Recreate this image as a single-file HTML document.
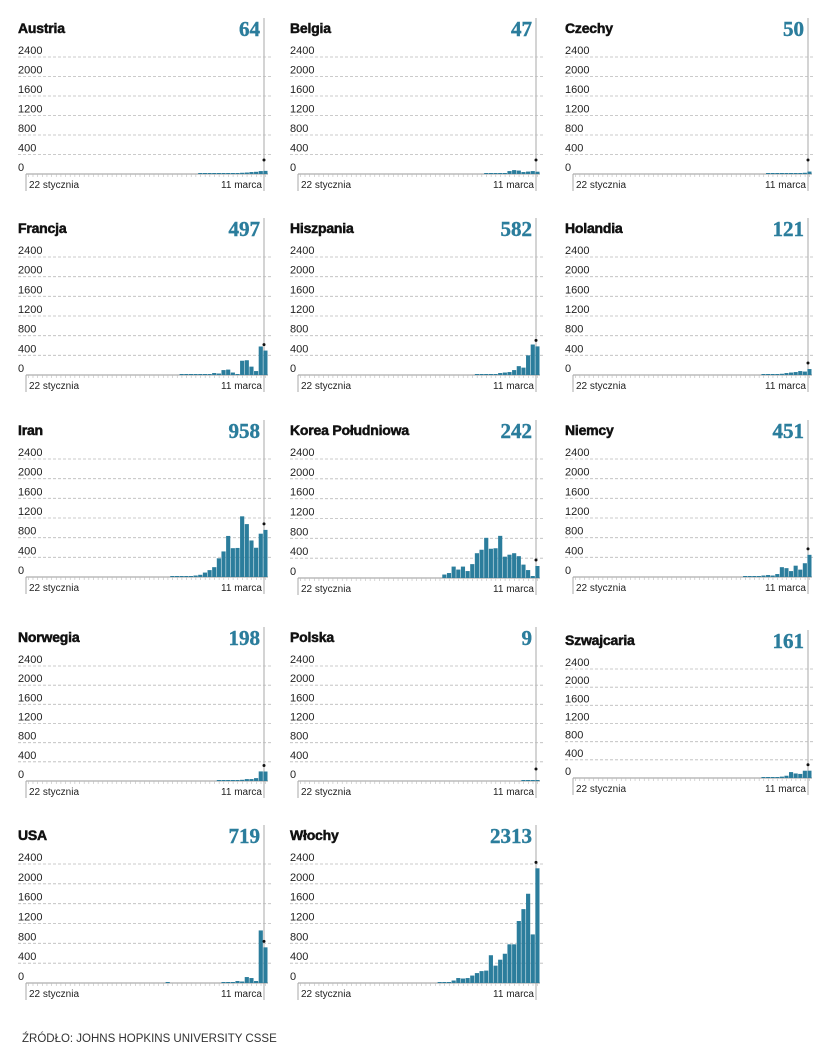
<!DOCTYPE html>
<html><head><meta charset="utf-8">
<style>
html,body{margin:0;padding:0;background:#fff;width:835px;height:1064px;overflow:hidden}
svg{display:block}
</style></head>
<body>
<svg id="s" width="835" height="1064" xmlns="http://www.w3.org/2000/svg" font-family="Liberation Sans, sans-serif"></svg>
<script>
var P=[
["Austria",64,18,28,174,[1,1,2,3,5,8,10,15,20,25,30,40,45,60,64],14],
["Belgia",47,290,28,174,[1,2,3,5,15,60,80,70,40,50,60,47],14],
["Czechy",50,565,28,174,[1,2,3,5,10,15,10,20,25,50],14],
["Francja",497,18,228,375,[2,5,2,10,2,20,20,40,30,100,110,50,20,290,300,170,80,580,497]],
["Hiszpania",582,290,228,375,[2,5,10,15,20,40,50,60,100,180,150,400,620,582]],
["Holandia",121,565,228,375,[2,5,10,20,25,40,50,60,80,70,121]],
["Iran",958,18,430,577,[2,3,5,10,15,30,45,90,140,200,380,520,835,586,591,1234,1076,743,595,881,958]],
["Korea Południowa",242,290,430,578,[70,100,230,170,230,140,280,500,570,810,590,600,850,430,470,500,440,270,160,40,242]],
["Niemcy",451,565,430,577,[3,5,10,20,30,40,30,60,200,180,120,230,150,280,451]],
["Norwegia",198,18,637,781,[2,5,10,15,20,25,40,40,60,200,198]],
["Polska",9,290,637,781,[0,0,1,2,3,9],12],
["Szwajcaria",161,565,640,778,[2,5,10,20,30,50,130,100,90,160,161]],
["USA",719,18,835,983,[0,0,0,0,0,0,0,0,20,0,0,0,0,0,0,0,0,0,0,0,20,20,20,40,30,120,100,40,1060,719]],
["Włochy",2313,290,835,983,[5,10,20,50,100,90,100,150,200,240,250,560,350,470,590,780,780,1250,1490,1800,980,2313]]
];
var o='';var C='#2b7d9c';
P.forEach(function(p){
 var L=p[2],T=p[3],B=p[4],d=p[5];
 var sp=(B-T-29)/6, sc=sp/400;
 var vx=L+246, right=L+250;
 if(L==565){vx=L+243;right=L+247;}
 o+='<text x="'+L+'" y="'+(T+5)+'" font-size="14" font-weight="bold" fill="#111" stroke="#111" stroke-width="0.5" letter-spacing="-0.2">'+p[0]+'</text>';
 o+='<text x="'+(vx-4)+'" y="'+(T+8)+'" font-size="21" font-weight="bold" text-anchor="end" fill="'+C+'" stroke="'+C+'" stroke-width="0.4" font-family="Liberation Serif, serif">'+p[1]+'</text>';
 o+='<line x1="'+vx+'" y1="'+(T-10)+'" x2="'+vx+'" y2="'+(B+17)+'" stroke="#aaa" stroke-width="1"/>';
 for(var i=0;i<=6;i++){var y=B-i*sp;
  if(i>0)o+='<line x1="'+L+'" y1="'+y+'" x2="'+(right+3)+'" y2="'+y+'" stroke="#bbb" stroke-width="0.8" stroke-dasharray="3,2"/>';
  o+='<text x="'+L+'" y="'+(y-3)+'" font-size="11" fill="#222">'+(i*400)+'</text>';}
 var n=52,x0=L+8,w=(right-x0)/n;
 o+='<line x1="'+x0+'" y1="'+B+'" x2="'+right+'" y2="'+B+'" stroke="#999" stroke-width="1"/>';
 for(var i=0;i<n;i++){o+='<line x1="'+(x0+i*w+w/2)+'" y1="'+B+'" x2="'+(x0+i*w+w/2)+'" y2="'+(B+3)+'" stroke="#bbb" stroke-width="0.6"/>';}
 o+='<line x1="'+x0+'" y1="'+B+'" x2="'+x0+'" y2="'+(B+17)+'" stroke="#aaa"/>';
 for(var j=0;j<d.length;j++){var v=d[j];if(!v)continue;var i=n-d.length+j;var h=Math.max(v*sc,1);
  o+='<rect x="'+(x0+i*w)+'" y="'+(B-h)+'" width="'+(w-0.5)+'" height="'+h+'" fill="'+C+'"/>';}
 var dy=p[6]?B-p[6]:B-p[1]*sc-6;
 o+='<circle cx="'+vx+'" cy="'+dy+'" r="1.5" fill="#111"/>';
 o+='<text x="'+(x0+3)+'" y="'+(B+14)+'" font-size="10" fill="#222">22 stycznia</text>';
 o+='<text x="'+(vx-2)+'" y="'+(B+14)+'" font-size="10" fill="#222" text-anchor="end">11 marca</text>';
});
o+='<text x="22" y="1042" font-size="11.5" fill="#333">ŹRÓDŁO: JOHNS HOPKINS UNIVERSITY CSSE</text>';
document.getElementById('s').innerHTML=o;
</script>
</body></html>
